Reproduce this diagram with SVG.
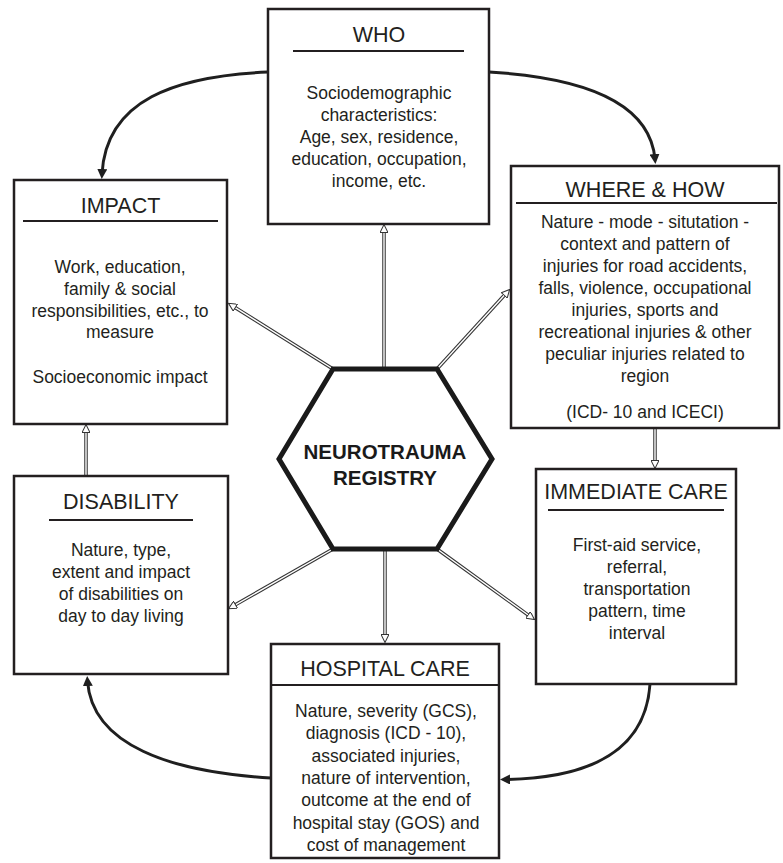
<svg xmlns="http://www.w3.org/2000/svg" width="783" height="863" viewBox="0 0 783 863">
<style>
.box{fill:#fff;stroke:#231f20;stroke-width:2.5}
.ul{stroke:#231f20;stroke-width:2}
.t{font-family:"Liberation Sans",Arial,sans-serif;font-size:21.5px;fill:#231f20;text-anchor:middle}
.b{font-family:"Liberation Sans",Arial,sans-serif;font-size:17.5px;fill:#231f20;text-anchor:middle}
.hx{fill:#fff;stroke:#1a1a1a;stroke-width:5;stroke-linejoin:miter}
.hxt{font-family:"Liberation Sans",Arial,sans-serif;font-size:20.5px;font-weight:bold;fill:#1a1a1a;text-anchor:middle}
.ho{fill:none;stroke:#333;stroke-width:3.5}
.hi{fill:none;stroke:#fff;stroke-width:1.4;marker-end:url(#open)}
.cv{fill:none;stroke:#1f1f1f;stroke-width:3;marker-end:url(#solid)}
</style>
<defs>
<marker id="open" viewBox="0 0 10 10" refX="4" refY="5" markerWidth="9" markerHeight="8" markerUnits="userSpaceOnUse" orient="auto">
<path d="M0,0 L10,5 L0,10 z" fill="#fff" stroke="#333" stroke-width="1.3"/>
</marker>
<marker id="solid" viewBox="0 0 10 10" refX="5" refY="5" markerWidth="10" markerHeight="10" markerUnits="userSpaceOnUse" orient="auto">
<path d="M0,0 L10,5 L0,10 z" fill="#1f1f1f"/>
</marker>
</defs>

<g id="connectors">
<path class="cv" d="M268,72 C175,76 106,100 102,174"/>
<path class="cv" d="M489,72 C590,78 650,105 655,159"/>
<path class="cv" d="M650,684 C646,745 600,778 505,779.5"/>
<path class="cv" d="M271,778 C170,772 92,745 87.5,681"/>
<path class="ho" d="M384,369 L384,229.4"/><path class="hi" d="M384,369 L384,229.4"/>
<path class="ho" d="M333,369 L232.6,305.9"/><path class="hi" d="M333,369 L232.6,305.9"/>
<path class="ho" d="M437,369 L506.4,293"/><path class="hi" d="M437,369 L506.4,293"/>
<path class="ho" d="M333,549 L232.7,606.3"/><path class="hi" d="M333,549 L232.7,606.3"/>
<path class="ho" d="M437,549 L530.6,616.8"/><path class="hi" d="M437,549 L530.6,616.8"/>
<path class="ho" d="M385,549 L385,637.6"/><path class="hi" d="M385,549 L385,637.6"/>
<path class="ho" d="M86,476 L86,429.4"/><path class="hi" d="M86,476 L86,429.4"/>
<path class="ho" d="M655,428 L655,463.6"/><path class="hi" d="M655,428 L655,463.6"/>
</g>

<g id="registry">
<polygon class="hx" points="333,369 437,369 492,459 437,549 333,549 279,459"/>
<text class="hxt" x="385" y="459">NEUROTRAUMA</text>
<text class="hxt" x="385" y="485">REGISTRY</text>
</g>

<g id="who">
<rect class="box" x="268" y="9" width="221" height="215"/>
<text class="t" x="379" y="41.5">WHO</text>
<line class="ul" x1="293" y1="51" x2="464" y2="51"/>
<text class="b" x="379" y="99">Sociodemographic</text>
<text class="b" x="379" y="121">characteristics:</text>
<text class="b" x="379" y="143">Age, sex, residence,</text>
<text class="b" x="379" y="165">education, occupation,</text>
<text class="b" x="379" y="187">income, etc.</text>
</g>

<g id="where-how">
<rect class="box" x="511" y="166" width="268" height="262"/>
<text class="t" x="645" y="197">WHERE &amp; HOW</text>
<line class="ul" x1="516" y1="203" x2="777" y2="203"/>
<text class="b" x="645" y="228">Nature - mode - situtation -</text>
<text class="b" x="645" y="250">context and pattern of</text>
<text class="b" x="645" y="272">injuries for road accidents,</text>
<text class="b" x="645" y="294">falls, violence, occupational</text>
<text class="b" x="645" y="316">injuries, sports and</text>
<text class="b" x="645" y="338">recreational injuries &amp; other</text>
<text class="b" x="645" y="360">peculiar injuries related to</text>
<text class="b" x="645" y="382">region</text>
<text class="b" x="645" y="418">(ICD- 10 and ICECI)</text>
</g>

<g id="impact">
<rect class="box" x="14" y="180" width="213" height="244"/>
<text class="t" x="120.5" y="213">IMPACT</text>
<line class="ul" x1="23" y1="221" x2="218" y2="221"/>
<text class="b" x="120" y="273">Work, education,</text>
<text class="b" x="120" y="295">family &amp; social</text>
<text class="b" x="120" y="317">responsibilities, etc., to</text>
<text class="b" x="120" y="338">measure</text>
<text class="b" x="120" y="383">Socioeconomic impact</text>
</g>

<g id="disability">
<rect class="box" x="14" y="476" width="214" height="198"/>
<text class="t" x="121" y="509">DISABILITY</text>
<line class="ul" x1="49" y1="520" x2="193" y2="520"/>
<text class="b" x="121" y="556">Nature, type,</text>
<text class="b" x="121" y="578">extent and impact</text>
<text class="b" x="121" y="600">of disabilities on</text>
<text class="b" x="121" y="622">day to day living</text>
</g>

<g id="immediate-care">
<rect class="box" x="536" y="469" width="200" height="215"/>
<text class="t" x="636" y="499">IMMEDIATE CARE</text>
<line class="ul" x1="548" y1="510" x2="724" y2="510"/>
<text class="b" x="637" y="551">First-aid service,</text>
<text class="b" x="637" y="573">referral,</text>
<text class="b" x="637" y="595">transportation</text>
<text class="b" x="637" y="617">pattern, time</text>
<text class="b" x="637" y="639">interval</text>
</g>

<g id="hospital-care">
<rect class="box" x="271" y="644" width="228" height="214"/>
<text class="t" x="385" y="676">HOSPITAL CARE</text>
<line class="ul" x1="271" y1="685" x2="499" y2="685"/>
<text class="b" x="386" y="717">Nature, severity (GCS),</text>
<text class="b" x="386" y="739.3">diagnosis (ICD - 10),</text>
<text class="b" x="386" y="761.6">associated injuries,</text>
<text class="b" x="386" y="784">nature of intervention,</text>
<text class="b" x="386" y="806.2">outcome at the end of</text>
<text class="b" x="386" y="828.5">hospital stay (GOS) and</text>
<text class="b" x="386" y="850.8">cost of management</text>
</g>
</svg>
